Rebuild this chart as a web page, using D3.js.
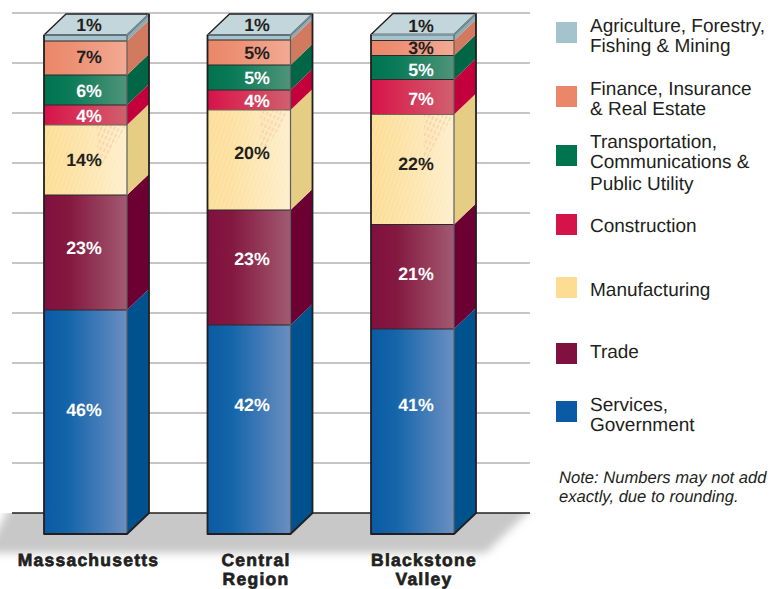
<!DOCTYPE html>
<html><head><meta charset="utf-8">
<script src="https://cdn.jsdelivr.net/npm/d3@7"></script>
<style>html,body{margin:0;padding:0;background:#fff}svg{display:block}text{font-family:"Liberation Sans",Arial,sans-serif;text-rendering:geometricPrecision}</style>
</head><body><div id="c"></div>
<script>
const categories=[["Massachusetts"],["Central","Region"],["Blackstone","Valley"]];
const seriesNames=["Services, Government","Trade","Manufacturing","Construction","Transportation","Finance","Agriculture"];
// drawn heights (percentage points of the axis)
const services=[44.8,41.8,41];
const trade=[23,23,20.9];
const manufacturing=[14,20,22];
const construction=[4,4,7];
const transportation=[6,5,4.8];
const finance=[6.8,5,3];
const agriculture=[1.2,1,1.2];
// printed labels
const labelsMA=["46%","23%","14%","4%","6%","7%","1%"];
const labelsCR=["42%","23%","20%","4%","5%","5%","1%"];
const labelsBV=["41%","21%","22%","7%","5%","3%","1%"];
const gridTicks=[0,10,20,30,40,50,60,70,80,90,100];
const legendRows=[
 [["Agriculture, Forestry,","Fishing & Mining"],"#a4c3cc"],
 [["Finance, Insurance","& Real Estate"],"#ea8768"],
 [["Transportation,","Communications &","Public Utility"],"#00734f"],
 [["Construction"],"#d6124a"],
 [["Manufacturing"],"#fcdd93"],
 [["Trade"],"#80103f"],
 [["Services,","Government"],"#0a5aa5"]];

const W=774,H=589,depthX=22,depthY=21,barW=83;
const svg=d3.select("#c").append("svg").attr("width",W).attr("height",H);
const defs=svg.append("defs");
const styles=[
 {a:"#0a5aa5",m:"#1565aa",b:"#6b8fc2",s:"#00528f",t:"#fff"},
 {a:"#80103f",m:"#84183f",b:"#a25a72",s:"#6d0033",t:"#fff"},
 {a:"#fcdd93",m:"#fde0a0",b:"#fdeecb",s:"#e6cd84",t:"#231f20"},
 {a:"#d6124a",m:"#d72a53",b:"#d0606e",s:"#c4003c",t:"#fff"},
 {a:"#00734f",m:"#0a7a57",b:"#4f947a",s:"#006645",t:"#fff"},
 {a:"#ea8768",m:"#ec8f73",b:"#f3aa93",s:"#d27a5f",t:"#231f20"},
 {a:"#a4c3cc",m:"#a4c3cc",b:"#a4c3cc",s:"#8faab2",t:"#231f20"}];
styles.forEach((s,i)=>{
 const g=defs.append("linearGradient").attr("id","g"+i);
 g.append("stop").attr("offset","0%").attr("stop-color",s.a);
 g.append("stop").attr("offset","30%").attr("stop-color",s.m);
 g.append("stop").attr("offset","100%").attr("stop-color",s.b);
});
const hatch=defs.append("pattern").attr("id","hatch").attr("width",4).attr("height",6)
 .attr("patternUnits","userSpaceOnUse").attr("patternTransform","rotate(25)");
hatch.append("line").attr("x1",2).attr("x2",2).attr("y1",0).attr("y2",4)
 .attr("stroke","#e8825f").attr("stroke-width",.9).attr("stroke-opacity",.4);
const tex=defs.append("pattern").attr("id","tex").attr("width",4).attr("height",6)
 .attr("patternUnits","userSpaceOnUse").attr("patternTransform","rotate(20)");
tex.append("line").attr("x1",1).attr("x2",1).attr("y1",0).attr("y2",6)
 .attr("stroke","#fff").attr("stroke-width",.8).attr("stroke-opacity",.3);
defs.append("filter").attr("id","blur").attr("x","-10%").attr("y","-50%").attr("width","120%").attr("height","200%")
 .append("feGaussianBlur").attr("stdDeviation",4);
defs.append("clipPath").attr("id","below").append("rect").attr("x",0).attr("y",513).attr("width",W).attr("height",76);

const rows=categories.map((c,i)=>({i,v0:services[i],v1:trade[i],v2:manufacturing[i],v3:construction[i],v4:transportation[i],v5:finance[i],v6:agriculture[i]}));
const stack=d3.stack().keys(d3.range(7).map(k=>"v"+k))(rows);
const x=d3.scaleLinear().domain([0,2]).range([44,371]);
const yGrid=d3.scaleLinear().domain([0,100]).range([513,13]);
const yFront=d3.scaleLinear().domain([0,100]).range([534,34]);

// floor shadow
svg.append("g").attr("clip-path","url(#below)").append("path")
 .attr("d",d3.line()([[10,506],[534,506],[486,553],[-14,553]])+"Z")
 .attr("fill","#c8c8c8").attr("filter","url(#blur)");

// grid
svg.append("g").selectAll("line").data(gridTicks).join("line")
 .attr("x1",12).attr("x2",530)
 .attr("y1",d=>yGrid(d)).attr("y2",d=>yGrid(d))
 .attr("stroke",d=>d===0?"#231f20":"#b4b2b2").attr("stroke-width",1.4);

const poly=p=>d3.line()(p)+"Z";
const labelSets=[labelsMA,labelsCR,labelsBV];
const labelDy=[[-12,-5,0,1,1,-1,-13],[-24.5,-8.5,-7,1,0,0,-12.5],[-26.5,-3,-6,2,2,0,-12]];
const labelDx=[[-1.5,-1.5,-1.5,3.5,3.5,3.5,3.5],[3,3,3,8,8,8,8],[3.5,3.5,3.5,8.5,8.5,8.5,8.5]];

categories.forEach((c,b)=>{
 const g=svg.append("g"), x0=x(b), x1=x0+barW;
 const top=yFront(d3.sum(stack,s=>s[b][1]-s[b][0]));
 stack.forEach((s,k)=>{
  const y0=yFront(s[b][0]),y1=yFront(s[b][1]);
  g.append("path").attr("d",poly([[x1,y0],[x1+depthX,y0-depthY],[x1+depthX,y1-depthY],[x1,y1]])).attr("fill",styles[k].s);
  g.append("rect").attr("x",x0).attr("y",y1).attr("width",barW).attr("height",y0-y1).attr("fill",`url(#g${k})`);
  if(k===2){
   g.append("rect").attr("x",x0).attr("y",y1).attr("width",barW).attr("height",y0-y1).attr("fill","url(#tex)");
   const h=Math.min(y0-y1,48);
   g.append("path").attr("d",poly([[x1-30,y1],[x1,y1],[x1-30,y1+h]])).attr("fill","url(#hatch)");
  }
  if(k>0) g.append("line").attr("x1",x0).attr("x2",x1).attr("y1",y0).attr("y2",y0).attr("stroke",k===3?"#6e6a58":"#2a2a2a").attr("stroke-width",1.2);
 });
 // top face
 g.append("path").attr("d",poly([[x0,top],[x1,top],[x1+depthX,top-depthY],[x0+depthX,top-depthY]]))
  .attr("fill","#c3d6dc").attr("stroke","#231f20").attr("stroke-width",1.4).attr("stroke-linejoin","round");
 // outlines
 g.append("line").attr("x1",x1).attr("x2",x1).attr("y1",top).attr("y2",yFront(0)).attr("stroke","#5e5e5e").attr("stroke-width",1.2);
 g.append("path").attr("d",d3.line()([[x0,top],[x1,top],[x1+depthX,top-depthY]])).attr("fill","none").attr("stroke","#7d9aa3").attr("stroke-width",1.2);
 g.append("path").attr("d",d3.line()([[x0,top],[x0,yFront(0)],[x1,yFront(0)],[x1+depthX,yFront(0)-depthY],[x1+depthX,top-depthY]]))
  .attr("fill","none").attr("stroke","#231f20").attr("stroke-width",1.8).attr("stroke-linejoin","round");
 // value labels
 stack.forEach((s,k)=>{
  const mid=(yFront(s[b][0])+yFront(s[b][1]))/2;
  g.append("text").text(labelSets[b][k])
   .attr("x",x0+barW/2+labelDx[b][k]).attr("y",mid+labelDy[b][k]+6)
   .attr("text-anchor","middle").attr("font-size",17.8).attr("font-weight",700)
   .attr("fill",styles[k].t);
 });
 // category label
 const cx=[88.5,256,424][b];
 c.forEach((t,l)=>svg.append("text").text(t).attr("x",cx).attr("y",565.5+l*19.7)
  .attr("text-anchor","middle").attr("font-size",17.5).attr("font-weight",700)
  .attr("letter-spacing",1.25).attr("fill","#231f20").attr("stroke","#231f20").attr("stroke-width",.7));
});

// legend
const swatchY=[22,86,145,214,277,343,401];
const baseY=[[32,52],[95,115],[148,168,190],[232],[296],[358],[411,431]];
const leg=svg.append("g");
legendRows.forEach(([lines,col],i)=>{
 leg.append("rect").attr("x",556).attr("y",swatchY[i]).attr("width",21).attr("height",21).attr("fill",col);
 lines.forEach((t,l)=>leg.append("text").text(t).attr("x",590).attr("y",baseY[i][l])
  .attr("font-size",19).attr("fill","#231f20"));
});
["Note: Numbers may not add","exactly, due to rounding."].forEach((t,l)=>
 leg.append("text").text(t).attr("x",559).attr("y",483+l*19).attr("font-size",16.6)
  .attr("font-style","italic").attr("fill","#231f20"));
</script></body></html>
